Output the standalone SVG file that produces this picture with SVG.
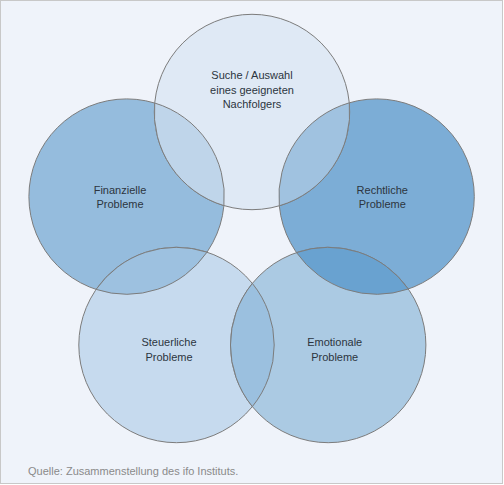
<svg xmlns="http://www.w3.org/2000/svg" width="504" height="485" viewBox="0 0 504 485">
<style>
.c{stroke:#7c7c7c;stroke-width:1}
.lens{stroke:#7c7c7c;stroke-width:1}
.t{font-family:"Liberation Sans",Arial,sans-serif;font-size:11px;fill:#2c3540;text-anchor:middle}
.src{font-family:"Liberation Sans",Arial,sans-serif;font-size:11px;fill:#8a8a8a}
</style>
<rect x="0" y="0" width="504" height="485" fill="#ffffff"/>
<rect x="0.5" y="0.5" width="502" height="483" fill="#eff3fa" stroke="#c8c8c8" stroke-width="1"/>
<g id="node-finanzielle">
<circle class="c" cx="126.6" cy="196.6" r="97.7" fill="#95bcdd"/>
<text class="t" x="120" y="193.5">Finanzielle</text>
<text class="t" x="120" y="208">Probleme</text>
</g>
<g id="node-rechtliche">
<circle class="c" cx="376.6" cy="196.6" r="97.7" fill="#7cadd6"/>
<text class="t" x="382.3" y="193.5">Rechtliche</text>
<text class="t" x="382.3" y="208">Probleme</text>
</g>
<g id="node-suche">
<circle class="c" cx="252" cy="112" r="97.7" fill="#dfe9f5"/>
<text class="t" x="252" y="79">Suche / Auswahl</text>
<text class="t" x="252" y="93.5">eines geeigneten</text>
<text class="t" x="252" y="108">Nachfolgers</text>
</g>
<g id="node-steuerliche">
<circle class="c" cx="176.5" cy="345" r="97.7" fill="#c6daee"/>
<text class="t" x="169" y="346.3">Steuerliche</text>
<text class="t" x="169" y="360.7">Probleme</text>
</g>
<g id="node-emotionale">
<circle class="c" cx="328.2" cy="345" r="97.7" fill="#abcae3"/>
<text class="t" x="334.7" y="346.3">Emotionale</text>
<text class="t" x="334.7" y="360.7">Probleme</text>
</g>
<g id="overlaps">
<path class="lens" fill="#bfd5ea" d="M154.7 103.0 A97.7 97.7 0 0 1 223.9 205.6 A97.7 97.7 0 0 1 154.7 103.0 Z"/>
<path class="lens" fill="#a0c2e0" d="M279.3 205.8 A97.7 97.7 0 0 1 349.3 102.8 A97.7 97.7 0 0 1 279.3 205.8 Z"/>
<path class="lens" fill="#9dc1e0" d="M96.1 289.4 A97.7 97.7 0 0 1 207.0 252.2 A97.7 97.7 0 0 1 96.1 289.4 Z"/>
<path class="lens" fill="#69a2d0" d="M296.5 252.6 A97.7 97.7 0 0 1 408.3 289.0 A97.7 97.7 0 0 1 296.5 252.6 Z"/>
<path class="lens" fill="#9bc0df" d="M252.35 283.4 A97.7 97.7 0 0 1 252.35 406.6 A97.7 97.7 0 0 1 252.35 283.4 Z"/>
</g>
<text class="src" x="28" y="474.5">Quelle: Zusammenstellung des ifo Instituts.</text>
</svg>
